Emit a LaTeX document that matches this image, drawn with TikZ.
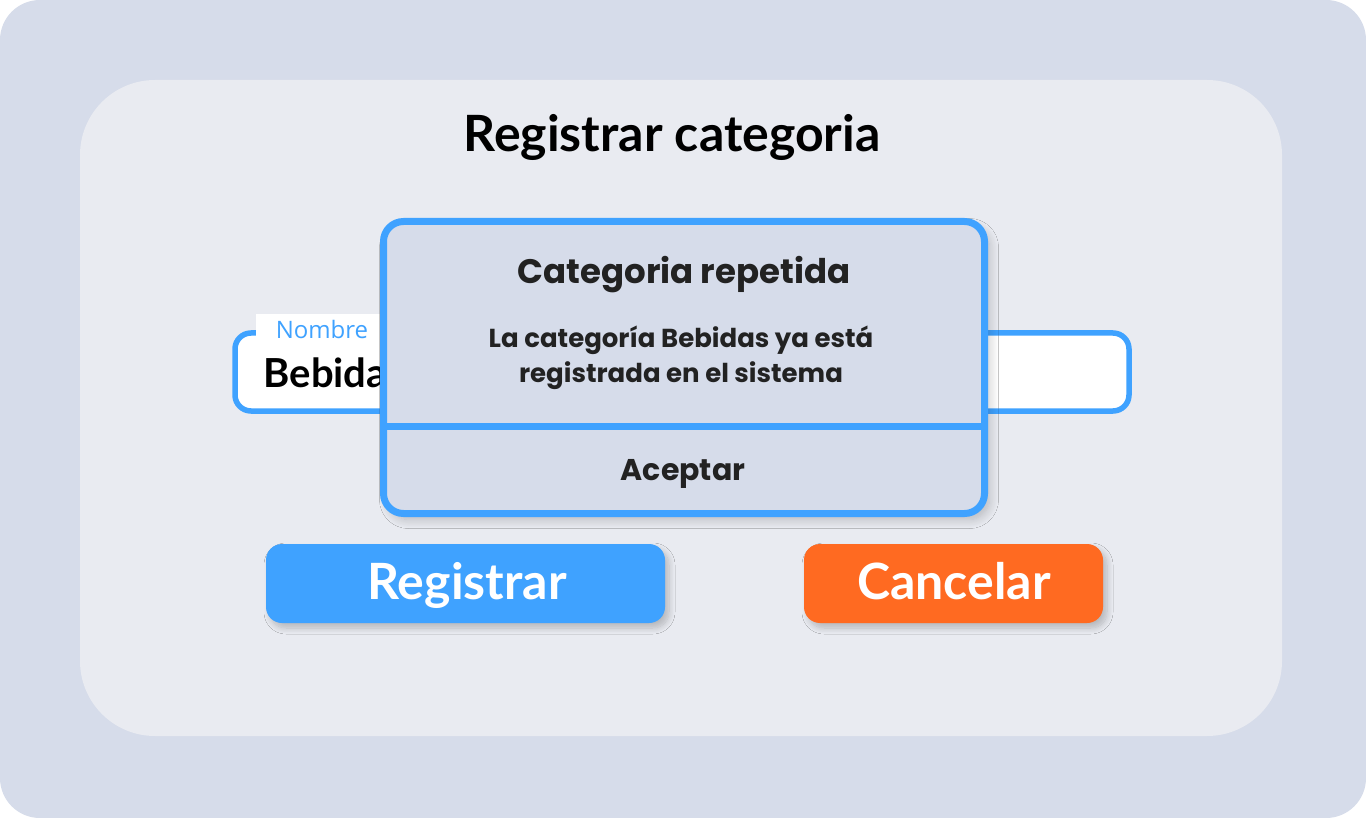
\documentclass[tikz,border=0pt]{standalone}
\usepackage{fontspec}
\setmainfont{Lato}
\newfontfamily\dmfont{Poppins}
\newfontfamily\labfont{Open Sans}
\usetikzlibrary{shadows,shadows.blur}
\definecolor{outerbg}{HTML}{D6DCEA}
\definecolor{innerbg}{HTML}{E9EBF1}
\definecolor{uiblue}{HTML}{3FA2FF}
\definecolor{uiorange}{HTML}{FF6A21}
\definecolor{dlgtext}{HTML}{222222}
\tikzset{
  box/.style={inner sep=0pt, outer sep=0pt},
  btn/.style={box, rounded corners=16pt, minimum width=399pt, minimum height=79pt,
    blur shadow={shadow xshift=4pt, shadow yshift=-5pt, shadow blur radius=6pt, shadow blur steps=10, shadow opacity=22}},
  btntext/.style={anchor=base, text=white, font=\fontsize{50}{56}\selectfont\bfseries},
  dlgtxt/.style={anchor=base, text=dlgtext, font=\dmfont\bfseries},
}
\begin{document}
\begin{tikzpicture}[x=1pt,y=-1pt]
\useasboundingbox (0,0) rectangle (1366,818);
\fill[white] (0,0) rectangle (1366,818);
\node[box, fill=outerbg, rounded corners=40pt, minimum width=1366pt, minimum height=818pt] (outer) at (683,409) {};
\node[box, fill=innerbg, rounded corners=75pt, minimum width=1202pt, minimum height=656pt] (panel) at (681,408) {};
\node[anchor=base, font=\fontsize{50}{56}\selectfont\bfseries] (title) at (672,152) {Registrar categoria};
% text field
\node[box, draw=uiblue, line width=5.5pt, fill=white, rounded corners=16pt, minimum width=894pt, minimum height=78pt] (field) at (682,372) {};
\node[box, fill=white, minimum width=124pt, minimum height=32pt] (labbg) at (318,330) {};
\node[anchor=base, text=uiblue, font=\labfont\fontsize{24}{27}\selectfont] (lab) at (322,339) {Nombre};
\node[anchor=base west, font=\fontsize{40}{46}\selectfont\bfseries] (val) at (260,388) {Bebidas};
% buttons
\node[btn, fill=uiblue] (reg) at (465.5,583.5) {};
\node[btntext] at (467,599) {Registrar};
\node[btn, fill=uiorange, minimum width=299pt] (can) at (953.5,583.5) {};
\node[btntext] at (954,599) {Cancelar};
% dialog
\node[box, draw=uiblue, line width=7pt, fill=outerbg, rounded corners=20pt, minimum width=601pt, minimum height=292pt,
  blur shadow={shadow xshift=5pt, shadow yshift=-6pt, shadow blur radius=9pt, shadow blur steps=12, shadow opacity=22}] (dlg) at (684,367.5) {};
\draw[uiblue, line width=7pt] (dlg.west |- 0,426) coordinate (sepL) -- (dlg.east |- 0,426) coordinate (sepR);
\node[dlgtxt, font=\dmfont\bfseries\fontsize{34}{38}\selectfont] (dtitle) at (684,284) {Categoria repetida};
\node[dlgtxt, font=\dmfont\bfseries\fontsize{26}{30}\selectfont] (msg1) at (681,348) {La categoría Bebidas ya está};
\node[dlgtxt, font=\dmfont\bfseries\fontsize{26}{30}\selectfont] (msg2) at (681,382) {registrada en el sistema};
\node[dlgtxt, font=\dmfont\bfseries\fontsize{30}{34}\selectfont] (ok) at (683,480) {Aceptar};
\end{tikzpicture}
\end{document}
